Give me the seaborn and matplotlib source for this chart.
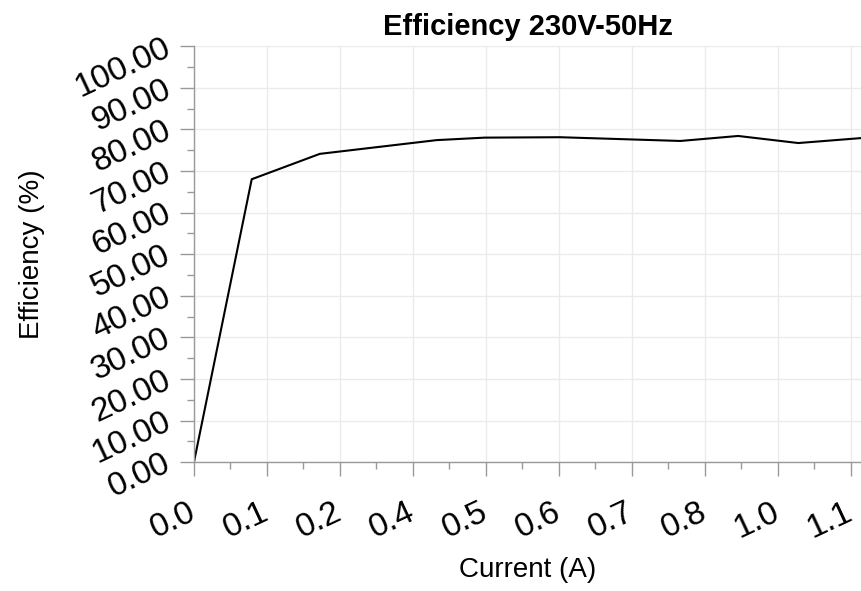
import numpy as np
import pandas as pd
import matplotlib
matplotlib.use("Agg")
import matplotlib.pyplot as plt
import matplotlib.transforms as mtransforms
from matplotlib.ticker import AutoMinorLocator
import seaborn as sns

# values
current = [0.0, 0.095, 0.207, 0.399, 0.478, 0.602, 0.800, 0.895, 0.994, 1.098]
efficiency = [0.0, 68.0, 74.1, 77.4, 78.0, 78.1, 77.2, 78.4, 76.7, 77.9]

x_ticks = [0.0, 0.12, 0.24, 0.36, 0.48, 0.60, 0.72, 0.84, 0.96, 1.08]
x_tick_labels = ["0.0", "0.1", "0.2", "0.4", "0.5", "0.6", "0.7", "0.8", "1.0", "1.1"]
y_ticks = [0, 10, 20, 30, 40, 50, 60, 70, 80, 90, 100]
y_tick_labels = [f"{v:.2f}" for v in y_ticks]

df = pd.DataFrame({"Current (A)": current, "Efficiency (%)": efficiency})

sns.set_style("whitegrid")
plt.rcParams["font.family"] = ["Liberation Sans", "DejaVu Sans"]
plt.rcParams["text.color"] = "black"
plt.rcParams["axes.labelcolor"] = "black"

fig, ax = plt.subplots(figsize=(8.62, 5.91), dpi=100)
fig.subplots_adjust(left=0.225, right=1.0, bottom=0.218, top=0.922)

sns.lineplot(data=df, x="Current (A)", y="Efficiency (%)", ax=ax,
             color="black", linewidth=1.5, sort=False)

ax.set_xlim(0, 1.0987)
ax.set_ylim(0, 100)
ax.set_xticks(x_ticks)
ax.set_xticklabels(x_tick_labels)
ax.set_yticks(y_ticks)
ax.set_yticklabels(y_tick_labels)
ax.xaxis.set_minor_locator(AutoMinorLocator(2))
ax.yaxis.set_minor_locator(AutoMinorLocator(2))

ax.grid(True, which="major", color="#ebebeb", linewidth=1.0)
ax.grid(False, which="minor")
ax.set_axisbelow(True)

for side in ["top", "right"]:
    ax.spines[side].set_visible(False)
for side in ["left", "bottom"]:
    ax.spines[side].set_color("#999999")
    ax.spines[side].set_linewidth(1.0)

# seaborn's whitegrid hides tick marks, turn them back on
ax.tick_params(which="both", bottom=True, left=True)
ax.tick_params(which="major", direction="out", length=10, width=1,
               color="#999999", labelsize=24, labelcolor="black")
ax.tick_params(which="minor", direction="out", length=5, width=1,
               color="#999999")
ax.tick_params(axis="x", which="major", pad=15)
ax.tick_params(axis="y", which="major", pad=8)

shift_x = mtransforms.ScaledTranslation(7 / 100, 0, fig.dpi_scale_trans)
for lab in ax.get_xticklabels():
    lab.set_rotation(25)
    lab.set_ha("right")
    lab.set_va("top")
    lab.set_transform(lab.get_transform() + shift_x)
for lab in ax.get_yticklabels():
    lab.set_rotation(25)
    lab.set_rotation_mode("anchor")
    lab.set_ha("right")
    lab.set_va("center")

ax.set_xlabel("Current (A)", fontsize=20, labelpad=9)
ax.set_ylabel("Efficiency (%)", fontsize=20, labelpad=18)
ax.set_title("Efficiency 230V-50Hz", fontsize=21, fontweight="bold",
             pad=8, color="black")

fig.savefig("out.png", dpi=100)
